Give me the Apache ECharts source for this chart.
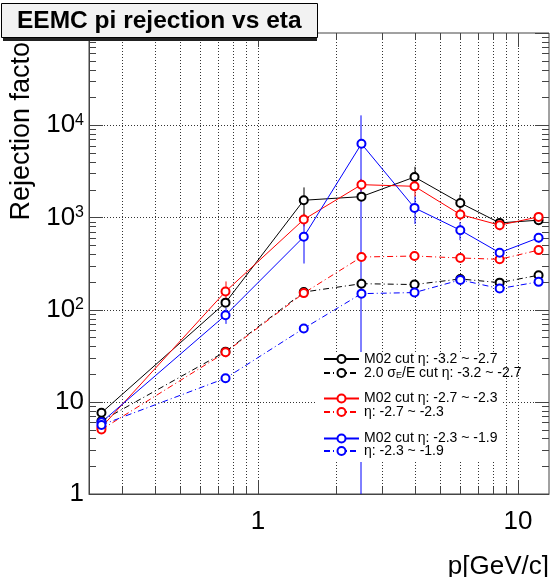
<!DOCTYPE html>
<html>
<head>
<meta charset="utf-8">
<script src="https://cdn.jsdelivr.net/npm/echarts@6/dist/echarts.min.js"></script>
<style>html,body{margin:0;padding:0;background:#fff;}#c{width:552px;height:577px;}</style>
</head>
<body>
<div id="c"></div>
<script>
// ---- data ----
const P_GEV = [0.25, 0.75, 1.5, 2.5, 4, 6, 8.5, 12];

const M02_ETA1 = [7.6, 119, 1535, 1680, 2740, 1435, 872, 933];
const M02_ETA1_ERR = [0.6, 10, 580, 150, 800, 330, 80, 90];
const SIG_ETA1 = [6.2, 35, 155, 191, 187, 215, 196, 236];
const SIG_ETA1_ERR = [0.4, 3, 10, 15, 15, 15, 15, 18];

const M02_ETA2 = [5.3, 157, 949, 2265, 2173, 1075, 824, 1013];
const M02_ETA2_ERR = [0.5, 45, 150, 350, 500, 150, 100, 120];
const SIG_ETA2 = [5.0, 34.4, 151, 372, 381, 363, 351, 442];
const SIG_ETA2_ERR = [0.4, 4, 15, 30, 30, 30, 30, 40];

const M02_ETA3 = [6.0, 87, 616, 6281, 1268, 727, 414, 601];
const M02_ETA3_ERR = [0.6, 17, 300, 6500, 420, 160, 50, 70];
const SIG_ETA3 = [5.6, 18, 62.5, 149, 153, 210, 169, 200];
const SIG_ETA3_ERR = [0.4, 2, 6, 12, 12, 18, 15, 18];

const SERIES_NAMES = [
  'M02 cut η: -3.2 ~ -2.7',
  '2.0 σ_E/E cut η: -3.2 ~ -2.7',
  'M02 cut η: -2.7 ~ -2.3',
  'η: -2.7 ~ -2.3',
  'M02 cut η: -2.3 ~ -1.9',
  'η: -2.3 ~ -1.9'
];

const X_MIN = 0.2239, X_MAX = 13.16;
const Y_MIN = 1, Y_MAX = 100000;
const X_LABELS = [1, 10];
const Y_LABELS = [1, 10, 100, 1000, 10000, 100000];
const X_MAJOR_TICKS = [1, 10];
const X_MINOR_TICKS = [0.3, 0.4, 0.5, 0.6, 0.7, 0.8, 0.9, 2, 3, 4, 5, 6, 7, 8, 9];
const Y_MAJOR_TICKS = [1, 10, 100, 1000, 10000, 100000];
const Y_MINOR_TICKS = [2, 3, 4, 5, 6, 7, 8, 9,
  20, 30, 40, 50, 60, 70, 80, 90,
  200, 300, 400, 500, 600, 700, 800, 900,
  2000, 3000, 4000, 5000, 6000, 7000, 8000, 9000,
  20000, 30000, 40000, 50000, 60000, 70000, 80000, 90000];

// ---- styles ----
const FONT = 'Liberation Sans, Arial, Helvetica, sans-serif';
const BLACK = '#000000', RED = '#ff0000', BLUE = '#0000ff';
const DASHDOT = [6, 3, 1, 3];
const FRAME = '#444444';
const MAJOR_LEN = 14, MINOR_LEN = 7;

function pts(vals) { return P_GEV.map((p, i) => [p, vals[i]]); }
function errPts(vals, errs) { return P_GEV.map((p, i) => [p, vals[i], errs[i]]); }
function crisp(v) { return Math.round(v) + 0.5; }

function lineSeries(name, vals, color, dashed) {
  return {
    type: 'line', name: name, data: pts(vals),
    symbol: 'emptyCircle', symbolSize: 8, z: 3,
    lineStyle: { color: color, width: 1, type: dashed ? DASHDOT : 'solid' },
    itemStyle: { color: color, borderColor: color, borderWidth: 1 },
    emphasis: { disabled: true }, animation: false
  };
}
function errSeries(vals, errs, color) {
  return {
    type: 'custom', data: errPts(vals, errs), z: 3,
    dimensions: ['p', 'r', 'e'], encode: { x: 0, y: 1 },
    itemStyle: { color: color },
    renderItem: function (params, api) {
      const x = api.value(0), y = api.value(1), e = api.value(2);
      const hi = api.coord([x, Math.min(y + e, Y_MAX)]);
      const lo = api.coord([x, Math.max(y - e, Y_MIN)]);
      const px = Math.round(hi[0]);
      return { type: 'line', shape: { x1: px, y1: hi[1], x2: px, y2: lo[1] },
        style: { stroke: color, lineWidth: 1 } };
    },
    silent: true, animation: false
  };
}

// grid lines + ROOT-style ticks on all four sides
const xTickData = X_MAJOR_TICKS.map(v => [v, Y_MIN, 1]).concat(X_MINOR_TICKS.map(v => [v, Y_MIN, 0]));
const yTickData = Y_MAJOR_TICKS.map(v => [1, v, 1]).concat(Y_MINOR_TICKS.map(v => [1, v, 0]));
const dotted = { stroke: '#333', lineWidth: 1, lineDash: [1, 2] };
const tickStyle = { stroke: FRAME, lineWidth: 1 };

const xTickSeries = {
  type: 'custom', data: xTickData, z: 1, silent: true, animation: false,
  dimensions: ['x', 'y', 'major'], encode: { x: 0, y: 1 },
  renderItem: function (params, api) {
    const cs = params.coordSys;
    const px = crisp(api.coord([api.value(0), Y_MIN])[0]);
    const len = api.value(2) ? MAJOR_LEN : MINOR_LEN;
    const top = cs.y, bot = cs.y + cs.height;
    return { type: 'group', children: [
      { type: 'line', shape: { x1: px, y1: top, x2: px, y2: bot }, style: dotted },
      { type: 'line', shape: { x1: px, y1: bot, x2: px, y2: bot - len }, style: tickStyle },
      { type: 'line', shape: { x1: px, y1: top, x2: px, y2: top + len }, style: tickStyle }
    ] };
  }
};
const yTickSeries = {
  type: 'custom', data: yTickData, z: 1, silent: true, animation: false,
  dimensions: ['x', 'y', 'major'], encode: { x: 0, y: 1 },
  renderItem: function (params, api) {
    const cs = params.coordSys;
    const py = crisp(api.coord([1, api.value(1)])[1]);
    const major = api.value(2);
    const len = major ? MAJOR_LEN : MINOR_LEN;
    const left = cs.x, right = cs.x + cs.width;
    const v = api.value(1);
    const children = [
      { type: 'line', shape: { x1: left, y1: py, x2: left + len, y2: py }, style: tickStyle },
      { type: 'line', shape: { x1: right, y1: py, x2: right - len, y2: py }, style: tickStyle }
    ];
    if (major && v > Y_MIN && v < Y_MAX) {
      children.unshift({ type: 'line', shape: { x1: left, y1: py, x2: right, y2: py }, style: dotted });
    }
    return { type: 'group', children: children };
  }
};

function legendFor(name, centerY) {
  return {
    data: [name], orient: 'vertical', left: 323, top: centerY - 7, padding: 0,
    itemWidth: 35, itemHeight: 10, selectedMode: false, z: 8,
    formatter: function (n) { return n.replace('σ_E', 'σ{s|E}'); },
    textStyle: { fontFamily: FONT, fontSize: 14, lineHeight: 14, color: '#000',
      rich: { s: { fontFamily: FONT, fontSize: 9, lineHeight: 5, verticalAlign: 'bottom', color: '#000' } } }
  };
}

const chart = echarts.init(document.getElementById('c'), null, { renderer: 'canvas' });
chart.setOption({
  backgroundColor: '#ffffff',
  animation: false,
  textStyle: { fontFamily: FONT },
  title: {
    text: 'EEMC pi rejection vs eta', left: 1, top: 3,
    padding: [4, 16, 3, 16],
    backgroundColor: '#f2f2f2', borderColor: '#000', borderWidth: 1,
    textStyle: { fontFamily: FONT, fontSize: 24.5, fontWeight: 'bold', color: '#000', lineHeight: 28 },
    z: 20
  },
  graphic: [
    { type: 'rect', shape: { x: 3, y: 5, width: 314, height: 36 }, style: { fill: '#222' }, z: 19 },
    { type: 'rect', shape: { x: 315, y: 352, width: 187, height: 110 }, style: { fill: '#fff' }, z: 7 }
  ],
  grid: { left: 89, right: 3, top: 33, bottom: 83, containLabel: false, outerBoundsMode: 'none',
    show: true, borderColor: FRAME, borderWidth: 1, backgroundColor: 'transparent' },
  xAxis: {
    type: 'log', logBase: 10, min: X_MIN, max: X_MAX,
    name: 'p[GeV/c]', nameLocation: 'end', nameGap: 0,
    nameTextStyle: { fontFamily: FONT, fontSize: 26, color: '#000', align: 'right', verticalAlign: 'top', padding: [60, 0, 0, 0] },
    axisLine: { show: true, lineStyle: { color: FRAME, width: 1 } },
    axisTick: { show: false }, splitLine: { show: false }, minorTick: { show: false },
    axisLabel: { customValues: X_LABELS, fontFamily: FONT, fontSize: 26, color: '#000', margin: 15, lineHeight: 26,
      formatter: function (v) { return String(Math.round(v)); } }
  },
  yAxis: {
    type: 'log', logBase: 10, min: Y_MIN, max: Y_MAX,
    name: 'Rejection factor', nameLocation: 'middle', nameRotate: 90, nameGap: 67,
    nameTextStyle: { fontFamily: FONT, fontSize: 27, color: '#000', align: 'left', verticalAlign: 'middle', padding: [0, 0, 0, 43] },
    axisLine: { show: true, lineStyle: { color: FRAME, width: 1 } },
    axisTick: { show: false }, splitLine: { show: false }, minorTick: { show: false },
    axisLabel: { customValues: Y_LABELS, fontFamily: FONT, fontSize: 26, color: '#000', margin: 5, lineHeight: 26,
      formatter: function (v) {
        const e = Math.round(Math.log10(v));
        if (e === 0) return '1';
        if (e === 1) return '10';
        return '10{s|' + e + '}';
      },
      rich: { s: { fontFamily: FONT, fontSize: 16, lineHeight: 10, verticalAlign: 'top', color: '#000' } }
    }
  },
  legend: [
    legendFor(SERIES_NAMES[0], 359),
    legendFor(SERIES_NAMES[1], 373),
    legendFor(SERIES_NAMES[2], 398.5),
    legendFor(SERIES_NAMES[3], 412),
    legendFor(SERIES_NAMES[4], 438.5),
    legendFor(SERIES_NAMES[5], 451)
  ],
  series: [
    xTickSeries, yTickSeries,
    errSeries(M02_ETA1, M02_ETA1_ERR, BLACK),
    errSeries(SIG_ETA1, SIG_ETA1_ERR, BLACK),
    errSeries(M02_ETA2, M02_ETA2_ERR, RED),
    errSeries(SIG_ETA2, SIG_ETA2_ERR, RED),
    errSeries(M02_ETA3, M02_ETA3_ERR, BLUE),
    errSeries(SIG_ETA3, SIG_ETA3_ERR, BLUE),
    lineSeries(SERIES_NAMES[0], M02_ETA1, BLACK, false),
    lineSeries(SERIES_NAMES[1], SIG_ETA1, BLACK, true),
    lineSeries(SERIES_NAMES[2], M02_ETA2, RED, false),
    lineSeries(SERIES_NAMES[3], SIG_ETA2, RED, true),
    lineSeries(SERIES_NAMES[4], M02_ETA3, BLUE, false),
    lineSeries(SERIES_NAMES[5], SIG_ETA3, BLUE, true)
  ]
});
</script>
</body>
</html>
